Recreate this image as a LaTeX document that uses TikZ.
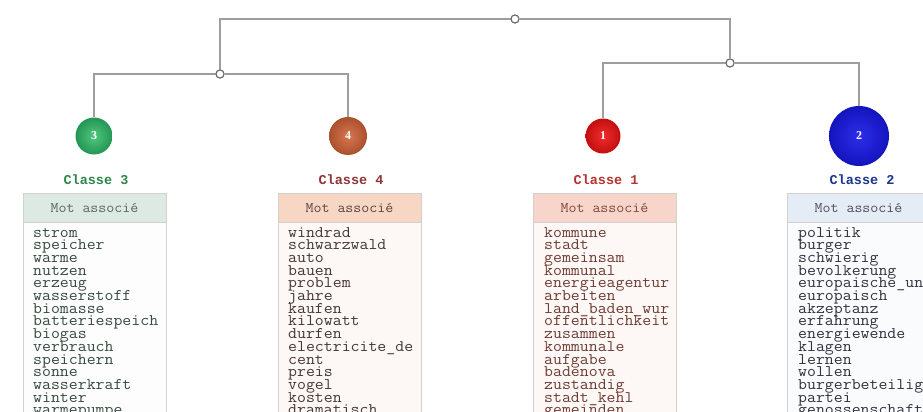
\documentclass[tikz,border=0pt]{standalone}
\usepackage{fontspec}
\setmainfont{Liberation Serif}
\newfontfamily\monofont{Liberation Mono}
\newfontfamily\courfont[FakeStretch=1.07]{Latin Modern Mono}
\begin{document}
\begin{tikzpicture}[x=1pt,y=-1pt,
  link/.style={draw=black!38,line width=1.4pt},
  junction/.style={circle,draw=black!60,fill=white,line width=1pt,minimum size=8pt,inner sep=0pt},
  ball/.style={circle,inner sep=0pt,text=white,shading=radial,font=\fontsize{12}{13}\selectfont\bfseries},
  classlabel/.style={font=\monofont\fontsize{13.5}{15}\selectfont\bfseries},
  headtext/.style={font=\courfont\fontsize{14.5}{15}\selectfont},
  word/.style={font=\courfont\fontsize{16.2}{15}\selectfont,inner sep=0pt,anchor=base west}]
\useasboundingbox (0,0) rectangle (923,412);
\clip (0,0) rectangle (923,412);
\fill[white] (0,0) rectangle (923,412);
% tree
\node[junction] (root) at (515,19) {};
\node[junction] (n34) at (220,74) {};
\node[junction] (n12) at (730,63) {};
\node[ball,inner color={rgb,255:red,80;green,200;blue,125},outer color={rgb,255:red,35;green,150;blue,85},minimum size=37pt] (c3) at (94,136) {3};
\node[ball,inner color={rgb,255:red,215;green,120;blue,80},outer color={rgb,255:red,170;green,80;blue,45},minimum size=38pt] (c4) at (348,136) {4};
\node[ball,inner color={rgb,255:red,240;green,45;blue,45},outer color={rgb,255:red,195;green,15;blue,15},minimum size=35pt] (c1) at (603,136) {1};
\node[ball,inner color={rgb,255:red,45;green,45;blue,235},outer color={rgb,255:red,20;green,20;blue,190},minimum size=60pt] (c2) at (859,136) {2};
\draw[link] (root) -| (n34);
\draw[link] (root) -| (n12);
\draw[link] (n34) -| (c3);
\draw[link] (n34) -| (c4);
\draw[link] (n12) -| (c1);
\draw[link] (n12) -| (c2);
\node[junction] at (root) {};
\node[junction] at (n34) {};
\node[junction] at (n12) {};
% class labels
\node[classlabel,text={rgb,255:red,45;green,135;blue,75}] (l3) at (96,180) {Classe 3};
\node[classlabel,text={rgb,255:red,140;green,55;blue,55}] (l4) at (351,180) {Classe 4};
\node[classlabel,text={rgb,255:red,185;green,50;blue,50}] (l1) at (606,180) {Classe 1};
\node[classlabel,text={rgb,255:red,30;green,55;blue,140}] (l2) at (862,180) {Classe 2};
% tables
\filldraw[fill={rgb,255:red,252;green,253;blue,252},draw=black!18] (23,222) rectangle (166,440);
\filldraw[fill={rgb,255:red,221;green,233;blue,227},draw=black!18] (23,193) rectangle (166,222);
\node[headtext,text={rgb,255:red,85;green,105;blue,95}] (h3) at (94.5,208) {Mot associé};
\filldraw[fill={rgb,255:red,253;green,248;blue,245},draw=black!18] (278,222) rectangle (421,440);
\filldraw[fill={rgb,255:red,248;green,214;blue,196},draw=black!18] (278,193) rectangle (421,222);
\node[headtext,text={rgb,255:red,90;green,70;blue,65}] (h4) at (349.5,208) {Mot associé};
\filldraw[fill={rgb,255:red,253;green,248;blue,246},draw=black!18] (533,222) rectangle (676,440);
\filldraw[fill={rgb,255:red,247;green,213;blue,203},draw=black!18] (533,193) rectangle (676,222);
\node[headtext,text={rgb,255:red,130;green,70;blue,60}] (h1) at (604.5,208) {Mot associé};
\filldraw[fill={rgb,255:red,250;green,251;blue,253},draw=black!18] (787,222) rectangle (940,440);
\filldraw[fill={rgb,255:red,228;green,236;blue,245},draw=black!18] (787,193) rectangle (940,222);
\node[headtext,text={rgb,255:red,75;green,80;blue,95}] (h2) at (858.5,208) {Mot associé};
% words
\foreach \w [count=\i] in {strom,speicher,warme,nutzen,erzeug,wasserstoff,biomasse,batteriespeich,biogas,verbrauch,speichern,sonne,wasserkraft,winter,warmepumpe}
  \node[word,text={rgb,255:red,55;green,75;blue,65}] (a\i) at (33,{237+12.7*(\i-1)}) {\w};
\foreach \w [count=\i] in {windrad,schwarzwald,auto,bauen,problem,jahre,kaufen,kilowatt,durfen,electricite\_de,cent,preis,vogel,kosten,dramatisch}
  \node[word,text={rgb,255:red,70;green,55;blue,52}] (b\i) at (288,{237+12.7*(\i-1)}) {\w};
\foreach \w [count=\i] in {kommune,stadt,gemeinsam,kommunal,energieagentur,arbeiten,land\_baden\_wur,offentlichkeit,zusammen,kommunale,aufgabe,badenova,zustandig,stadt\_kehl,gemeinden}
  \node[word,text={rgb,255:red,110;green,60;blue,52}] (d\i) at (544,{237+12.7*(\i-1)}) {\w};
\foreach \w [count=\i] in {politik,burger,schwierig,bevolkerung,europaische\_un,europaisch,akzeptanz,erfahrung,energiewende,klagen,lernen,wollen,burgerbeteilig,partei,genossenschaft}
  \node[word,text={rgb,255:red,50;green,50;blue,65}] (e\i) at (798,{237+12.7*(\i-1)}) {\w};
\end{tikzpicture}
\end{document}
